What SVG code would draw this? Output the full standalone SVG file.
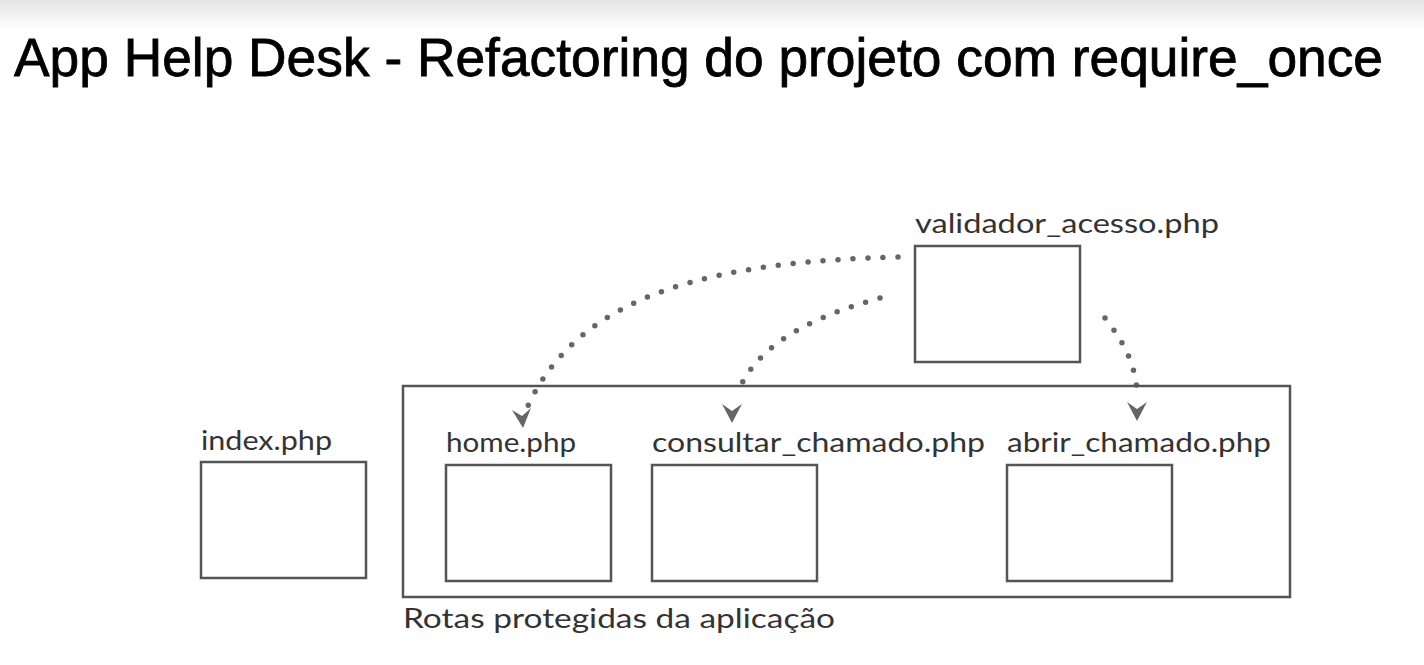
<svg xmlns="http://www.w3.org/2000/svg" width="1424" height="665" viewBox="0 0 1424 665">
<style>
.box{fill:#fff;stroke:#555;stroke-width:2.5}
.lbl{font-family:Lato,"Noto Sans",sans-serif;font-size:27px;fill:#333}
.dot{fill:none;stroke:#666;stroke-width:5.5;stroke-linecap:round;stroke-dasharray:0 15}
.title{font-family:"Liberation Sans",Arial,sans-serif;font-size:53px;fill:#000;stroke:#000;stroke-width:0.8}
.ah{fill:#666}
</style>
<defs>
<linearGradient id="bg" x1="0" y1="0" x2="0" y2="1">
<stop offset="0" stop-color="#e4e4e4"/>
<stop offset="1" stop-color="#ffffff"/>
</linearGradient>
</defs>
<rect width="1424" height="665" fill="#fff"/>
<rect width="1424" height="30" fill="url(#bg)"/>
<text class="title" x="14" y="76" textLength="1369" lengthAdjust="spacingAndGlyphs">App Help Desk - Refactoring do projeto com require_once</text>
<g id="connectors">
<path class="dot" d="M898 257 C 720 262 580 290 527 408"/>
<path class="dot" d="M880 298 C 800 320 755 350 738 392"/>
<path class="dot" d="M1105 318 C 1122 340 1134 360 1137 390"/>
<path class="ah" d="M512 410 L522 416 L531 408 L523 428 Z"/>
<path class="ah" d="M722 404 L732 411 L742 404 L732 423 Z"/>
<path class="ah" d="M1127 402 L1137 409 L1147 402 L1137 421 Z"/>
</g>
<g id="validador">
<text class="lbl" x="915" y="233" textLength="304" lengthAdjust="spacingAndGlyphs">validador_acesso.php</text>
<rect class="box" x="915" y="246" width="165" height="116"/>
</g>
<g id="rotas">
<rect x="403" y="386" width="887" height="211" fill="none" stroke="#555" stroke-width="2.5"/>
<text class="lbl" x="403" y="628" textLength="432" lengthAdjust="spacingAndGlyphs">Rotas protegidas da aplicação</text>
</g>
<g id="index">
<text class="lbl" x="201" y="450" textLength="131" lengthAdjust="spacingAndGlyphs">index.php</text>
<rect class="box" x="201" y="462" width="165" height="116"/>
</g>
<g id="home">
<text class="lbl" x="446" y="452" textLength="130" lengthAdjust="spacingAndGlyphs">home.php</text>
<rect class="box" x="446" y="465" width="165" height="116"/>
</g>
<g id="consultar">
<text class="lbl" x="652" y="452" textLength="333" lengthAdjust="spacingAndGlyphs">consultar_chamado.php</text>
<rect class="box" x="652" y="465" width="165" height="116"/>
</g>
<g id="abrir">
<text class="lbl" x="1007" y="452" textLength="264" lengthAdjust="spacingAndGlyphs">abrir_chamado.php</text>
<rect class="box" x="1007" y="465" width="165" height="116"/>
</g>
</svg>
